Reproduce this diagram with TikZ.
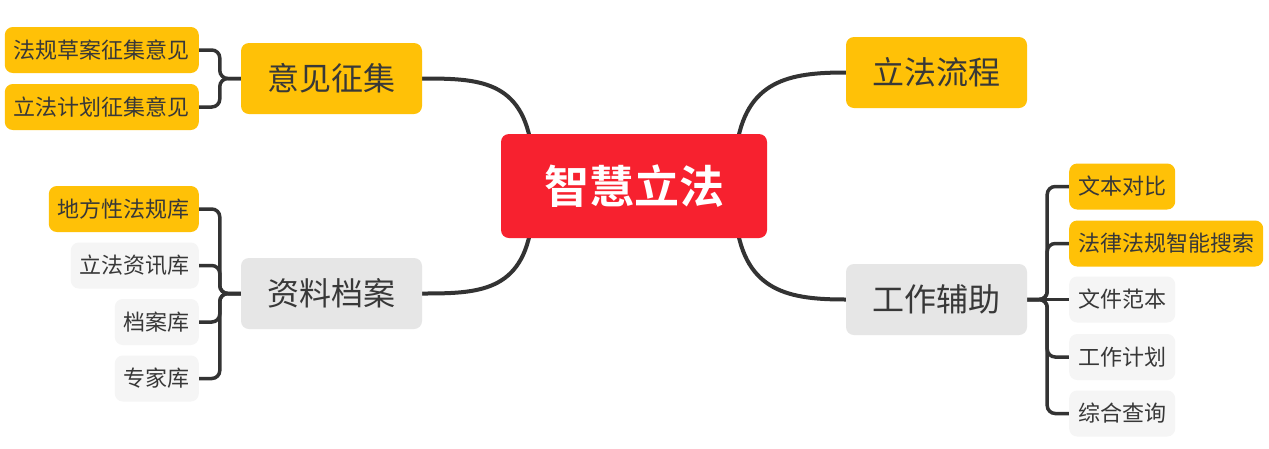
\documentclass[tikz,border=0pt]{standalone}
\usepackage{fontspec}
\newfontfamily\cjk[BoldFont={Noto Sans CJK SC Bold}]{Noto Sans CJK SC}
\usetikzlibrary{backgrounds,calc}
\definecolor{ylw}{HTML}{FFC107}
\definecolor{rootred}{HTML}{F7212F}
\definecolor{mgray}{HTML}{E6E6E6}
\definecolor{lgray}{HTML}{F5F5F5}
\definecolor{txt}{HTML}{383838}
\definecolor{linec}{HTML}{333333}
\begin{document}
\begin{tikzpicture}[x=1pt,y=-1pt,
  box/.style={rounded corners=8pt, inner sep=0pt, text=txt},
  rootbox/.style={box, fill=rootred, minimum width=266pt, minimum height=104pt,
    font=\cjk\bfseries\fontsize{45}{50}\selectfont, text=white},
  mainbox/.style={box, minimum width=181pt, minimum height=71pt,
    font=\cjk\fontsize{32}{36}\selectfont},
  subbox/.style={box, minimum height=46pt, inner xsep=9pt,
    font=\cjk\fontsize{22}{26}\selectfont},
  conn/.style={draw=linec, line width=4pt},
  brk/.style={draw=linec, line width=3.5pt, rounded corners=8pt}]
\useasboundingbox (0,0) rectangle (1269,448);
\begin{scope}[on background layer]
  \fill[white] (0,0) rectangle (1269,448);
\end{scope}

% nodes
\node[rootbox] (root) at (634,186) {智慧立法};
\node[mainbox, fill=ylw] (yj) at (331.5,78.5) {意见征集};
\node[mainbox, fill=mgray] (zl) at (331.5,293.5) {资料档案};
\node[mainbox, fill=ylw] (lf) at (936.5,72.5) {立法流程};
\node[mainbox, fill=mgray] (gz) at (936.5,299.5) {工作辅助};

\node[subbox, fill=ylw, anchor=east] (a1) at (199,50) {法规草案征集意见};
\node[subbox, fill=ylw, anchor=east] (a2) at (199,107) {立法计划征集意见};

\node[subbox, fill=ylw, anchor=east] (b1) at (199,209) {地方性法规库};
\node[subbox, fill=lgray, anchor=east] (b2) at (199,265.5) {立法资讯库};
\node[subbox, fill=lgray, anchor=east] (b3) at (199,322) {档案库};
\node[subbox, fill=lgray, anchor=east] (b4) at (199,378.5) {专家库};

\node[subbox, fill=ylw, anchor=west] (c1) at (1069,186.5) {文本对比};
\node[subbox, fill=ylw, anchor=west] (c2) at (1069,243.5) {法律法规智能搜索};
\node[subbox, fill=lgray, anchor=west] (c3) at (1069,299.5) {文件范本};
\node[subbox, fill=lgray, anchor=west] (c4) at (1069,357) {工作计划};
\node[subbox, fill=lgray, anchor=west] (c5) at (1069,413.5) {综合查询};

% connectors
\begin{scope}[on background layer]
  \draw[conn] ([shift={(-31,16)}]root.north east) .. controls +(9,-70) and +(-56,0) .. (lf.west);
  \draw[conn] ([shift={(-31,-16)}]root.south east) .. controls +(9,70) and +(-56,0) .. (gz.west);
  \draw[conn] ([shift={(31,16)}]root.north west) .. controls +(-9,-70) and +(56,0) .. (yj.east);
  \draw[conn] ([shift={(31,-16)}]root.south west) .. controls +(-9,70) and +(56,0) .. (zl.east);

  \foreach \c in {a1,a2} \draw[brk] (yj.west) -- ++(-21,0) |- (\c.east);
  \foreach \c in {b1,b2,b3,b4} \draw[brk] (zl.west) -- ++(-21,0) |- (\c.east);
  \foreach \c in {c1,c2,c4,c5} \draw[brk] (gz.east) -- ++(20,0) |- (\c.west);
  \draw[brk] (gz.east) -- (c3.west);
\end{scope}
\end{tikzpicture}
\end{document}
